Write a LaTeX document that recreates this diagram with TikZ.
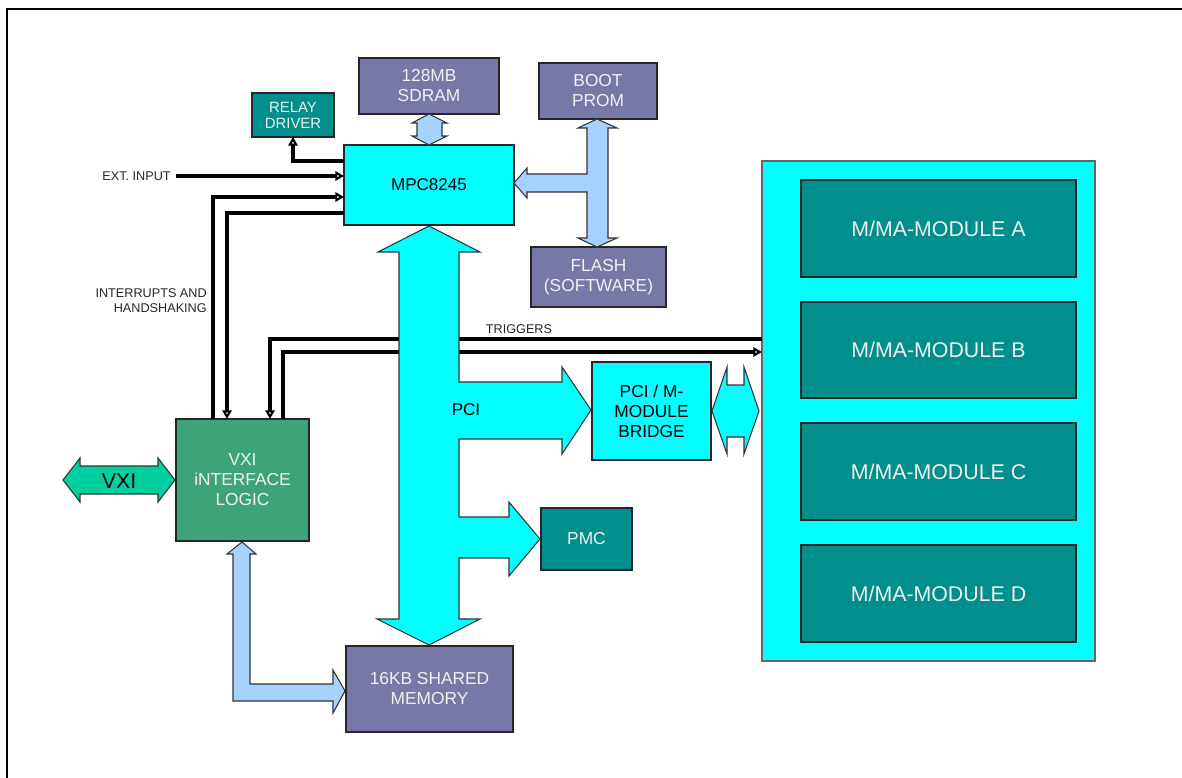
\documentclass[tikz,border=0pt]{standalone}
\usepackage{fontspec}
\setmainfont{Liberation Sans}
\usetikzlibrary{arrows.meta}
\definecolor{slate}{RGB}{120,120,168}
\definecolor{tealbox}{RGB}{0,143,140}
\definecolor{cyanbox}{RGB}{0,255,255}
\definecolor{lblue}{RGB}{166,210,255}
\definecolor{vxigreen}{RGB}{60,164,120}
\definecolor{vxiarrow}{RGB}{0,208,160}
\definecolor{txtlight}{RGB}{240,240,240}
\begin{document}
\begin{tikzpicture}[x=0.75pt,y=-0.75pt,
  bx/.style n args={4}{at={({(#1+#3)/2},{(#2+#4)/2})},
     minimum width={(#3-#1)*0.75pt}, minimum height={(#4-#2)*0.75pt}},
  box/.style={draw=black!85, line width=0.8pt, inner sep=0pt, outer sep=0pt, align=center,
     font=\fontsize{13}{15}\selectfont},
  slatebox/.style={box, fill=slate, text=txtlight},
  tealb/.style={box, fill=tealbox, text=txtlight},
  cyanb/.style={box, fill=cyanbox, text=black},
  modbox/.style={box, fill=tealbox, text=txtlight, font=\fontsize{16}{19}\selectfont},
  lbl/.style={inner sep=0pt, font=\fontsize{9.5}{11.25}\selectfont, text=black!85},
  conn/.style={line width=2.6pt, black},
  tip/.style={-{Triangle[open,length=6.5pt,width=7pt,line width=1.6pt]}},
  fat/.style={draw=black!80, line width=0.8pt, line join=miter}
]
\useasboundingbox (0,0) rectangle (1182,778);
% outer frame
\draw[line width=2.1pt] (7,800) -- (7,9) -- (1200,9);

\path node[slatebox, bx={359}{58}{499}{114}] (sdram) {128MB\\SDRAM};
\path node[slatebox, bx={539}{63}{657}{119}] (boot) {BOOT\\PROM};
\path node[slatebox, bx={531}{247}{666}{307}] (flash) {FLASH\\(SOFTWARE)};
\path node[box, draw=black!60, fill=cyanbox, bx={762}{161}{1095}{661}] (cont) {};

% black connectors
\coordinate (r1) at (292,161);
\coordinate (i1) at (213,197);
\coordinate (i2) at (227,213);
\coordinate (t1) at (270,339);
\coordinate (t2) at (283,352);
\node[lbl, anchor=east] (ext) at (171,176) {EXT. INPUT};
\node[lbl, anchor=east, align=right] (irq) at (207,300.5) {INTERRUPTS AND\\HANDSHAKING};
\node[lbl] (trig) at (519,329) {TRIGGERS};

\path node[cyanb, bx={344}{145}{514}{225}, font=\fontsize{12.8}{15}\selectfont] (mpc) {MPC8245};
\path node[box, fill=vxigreen, text=txtlight, bx={176}{419}{309}{541}] (vxi) {VXI\\iNTERFACE\\LOGIC};
\path node[tealb, bx={252}{93}{334}{137}, font=\fontsize{11.2}{12}\selectfont] (relay) {RELAY\\DRIVER};

\draw[conn, tip] (mpc.west |- r1) -| (relay.south);
\draw[conn, tip] (ext.east) ++(5,0) -- (mpc.west |- ext.east);
\draw[conn, tip] (vxi.north -| i1) |- (mpc.west |- i1);
\draw[conn, tip] (mpc.west |- i2) -| (vxi.north -| i2);
\draw[conn, tip] (cont.west |- t1) -| (vxi.north -| t1);
\draw[conn, tip] (vxi.north -| t2) |- (cont.west |- t2);

% PCI bus with branches
\draw[fat, fill=cyanbox] (429,226) -- (480,252) -- (459,252) -- (459,382) -- (562,382) -- (562,367)
  -- (591,410) -- (562,454) -- (562,439) -- (459,439) -- (459,517) -- (509,517) -- (509,502)
  -- (540,539) -- (509,576) -- (509,558) -- (459,558) -- (459,619) -- (480,619) -- (429,645)
  -- (377,619) -- (399,619) -- (399,252) -- (378,252) -- cycle;
\node[font=\fontsize{12.8}{15}\selectfont] (pci) at (466,410) {PCI};

% SDRAM arrow
\draw[fat, fill=lblue] (429,114) -- (447,123) -- (442,123) -- (442,136) -- (447,136) -- (429,145)
  -- (412,136) -- (417,136) -- (417,123) -- (412,123) -- cycle;
% boot/flash T arrow
\draw[fat, fill=lblue] (597,119) -- (617,128) -- (608,128) -- (608,238) -- (617,238) -- (597,247)
  -- (578,238) -- (587,238) -- (587,192) -- (527,192) -- (527,198) -- (514,183) -- (527,168)
  -- (527,174) -- (587,174) -- (587,128) -- (578,128) -- cycle;
% bridge - modules arrow
\draw[fat, fill=cyanbox] (712,411) -- (727,367) -- (727,385) -- (744,385) -- (744,367) -- (759,411)
  -- (744,454) -- (744,437) -- (727,437) -- (727,454) -- cycle;
% VXI arrow
\draw[fat, fill=vxiarrow] (63,480) -- (80,458) -- (80,466) -- (158,466) -- (158,458) -- (175,480)
  -- (158,502) -- (158,494) -- (80,494) -- (80,502) -- cycle;
\node[font=\fontsize{16}{19}\selectfont] (vxilbl) at (119,481) {VXI};
% shared memory L arrow
\draw[fat, fill=lblue] (242,542) -- (256,554) -- (250,554) -- (250,684) -- (333,684) -- (333,670)
  -- (345,691) -- (333,713) -- (333,701) -- (233,701) -- (233,554) -- (227,554) -- cycle;

% remaining boxes
\path node[cyanb, bx={592}{362}{711}{460}] (bridge) {PCI / M-\\MODULE\\BRIDGE};
\path node[tealb, bx={541}{508}{632}{570}] (pmc) {PMC};
\path node[slatebox, bx={346}{646}{513}{732}] (shm) {16KB SHARED\\MEMORY};
\path node[modbox, bx={801}{180}{1076}{277}] (modA) {M/MA-MODULE A};
\path node[modbox, bx={801}{302}{1076}{398}] (modB) {M/MA-MODULE B};
\path node[modbox, bx={801}{423}{1076}{520}] (modC) {M/MA-MODULE C};
\path node[modbox, bx={801}{545}{1076}{642}] (modD) {M/MA-MODULE D};
\end{tikzpicture}
\end{document}
